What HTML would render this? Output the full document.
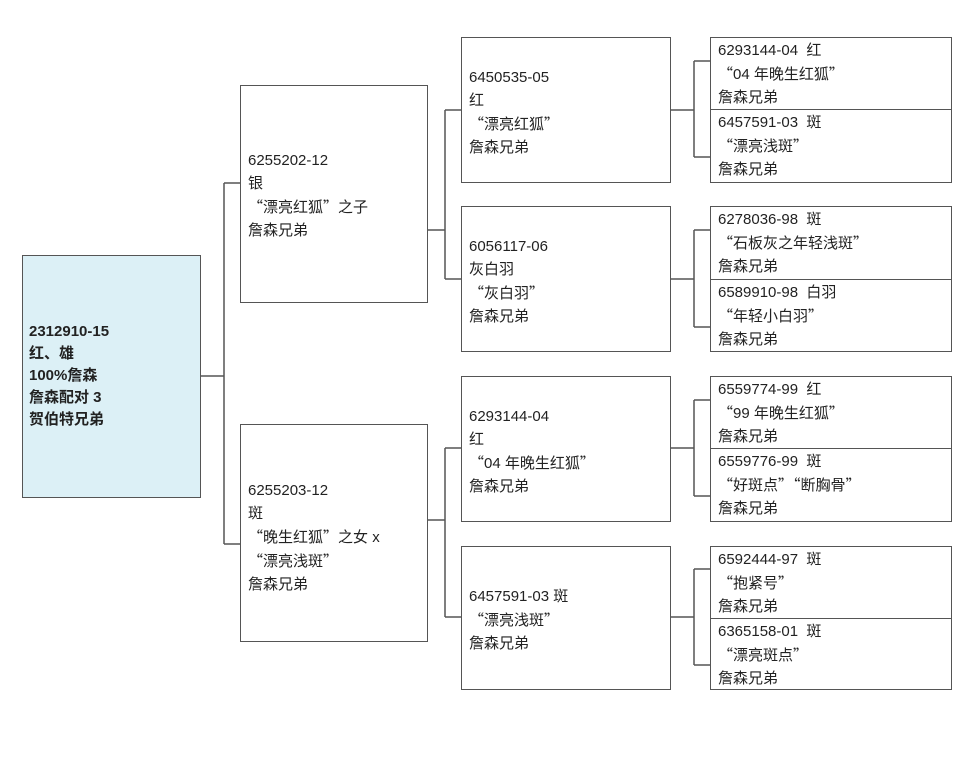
<!DOCTYPE html>
<html><head><meta charset="utf-8"><style>
body{margin:0;width:977px;height:768px;background:#fff;position:relative;overflow:hidden;font-family:"Liberation Sans","Noto Sans CJK SC",sans-serif;color:#222}
.b{position:absolute;border:1.5px solid #555;box-sizing:border-box;background:#fff}
.t{position:absolute;font-size:15px;line-height:23px;white-space:pre;color:#222}
.q{font-family:"Noto Sans CJK SC",sans-serif}
svg{position:absolute;left:0;top:0}
</style></head><body>
<svg width="977" height="768"><g stroke="#555" stroke-width="1.5" fill="none">
<path d="M200 376H224M224 183V544M224 183H240M224 544H240"/>
<path d="M427 230H445M445 110V279M445 110H461M445 279H461"/>
<path d="M427 520H445M445 448V617M445 448H461M445 617H461"/>
<path d="M670 110H694M694 61V157M694 61H710M694 157H710"/>
<path d="M670 279H694M694 230V327M694 230H710M694 327H710"/>
<path d="M670 448H694M694 400V496M694 400H710M694 496H710"/>
<path d="M670 617H694M694 569V665M694 569H710M694 665H710"/>
</g></svg>
<div class="b" style="left:22px;top:255px;width:179px;height:243px;background:#dcf0f6"></div>
<div class="t" style="left:29px;top:321px;font-weight:bold;line-height:22px">2312910-15
红、雄
100%詹森
詹森配对 3
贺伯特兄弟</div>

<div class="b" style="left:240px;top:85px;width:188px;height:218px"></div>
<div class="t" style="left:248px;top:149px">6255202-12
银
<span class="q">“</span>漂亮红狐<span class="q">”</span>之子
詹森兄弟</div>
<div class="b" style="left:240px;top:424px;width:188px;height:218px"></div>
<div class="t" style="left:248px;top:479px">6255203-12
斑
<span class="q">“</span>晚生红狐<span class="q">”</span>之女 x
<span class="q">“</span>漂亮浅斑<span class="q">”</span>
詹森兄弟</div>

<div class="b" style="left:461px;top:37px;width:210px;height:146px"></div>
<div class="t" style="left:469px;top:66px">6450535-05
红
<span class="q">“</span>漂亮红狐<span class="q">”</span>
詹森兄弟</div>
<div class="b" style="left:461px;top:206px;width:210px;height:146px"></div>
<div class="t" style="left:469px;top:235px">6056117-06
灰白羽
<span class="q">“</span>灰白羽<span class="q">”</span>
詹森兄弟</div>
<div class="b" style="left:461px;top:376px;width:210px;height:146px"></div>
<div class="t" style="left:469px;top:405px">6293144-04
红
<span class="q">“</span>04 年晚生红狐<span class="q">”</span>
詹森兄弟</div>
<div class="b" style="left:461px;top:546px;width:210px;height:144px"></div>
<div class="t" style="left:469px;top:585px">6457591-03 斑
<span class="q">“</span>漂亮浅斑<span class="q">”</span>
詹森兄弟</div>

<div class="b" style="left:710px;top:37px;width:242px;height:73px"></div>
<div class="t" style="left:718px;top:39px">6293144-04  红
<span class="q">“</span>04 年晚生红狐<span class="q">”</span>
詹森兄弟</div>
<div class="b" style="left:710px;top:109px;width:242px;height:74px"></div>
<div class="t" style="left:718px;top:111px">6457591-03  斑
<span class="q">“</span>漂亮浅斑<span class="q">”</span>
詹森兄弟</div>
<div class="b" style="left:710px;top:206px;width:242px;height:74px"></div>
<div class="t" style="left:718px;top:208px">6278036-98  斑
<span class="q">“</span>石板灰之年轻浅斑<span class="q">”</span>
詹森兄弟</div>
<div class="b" style="left:710px;top:279px;width:242px;height:73px"></div>
<div class="t" style="left:718px;top:281px">6589910-98  白羽
<span class="q">“</span>年轻小白羽<span class="q">”</span>
詹森兄弟</div>
<div class="b" style="left:710px;top:376px;width:242px;height:73px"></div>
<div class="t" style="left:718px;top:378px">6559774-99  红
<span class="q">“</span>99 年晚生红狐<span class="q">”</span>
詹森兄弟</div>
<div class="b" style="left:710px;top:448px;width:242px;height:74px"></div>
<div class="t" style="left:718px;top:450px">6559776-99  斑
<span class="q">“</span>好斑点<span class="q">”“</span>断胸骨<span class="q">”</span>
詹森兄弟</div>
<div class="b" style="left:710px;top:546px;width:242px;height:73px"></div>
<div class="t" style="left:718px;top:548px">6592444-97  斑
<span class="q">“</span>抱紧号<span class="q">”</span>
詹森兄弟</div>
<div class="b" style="left:710px;top:618px;width:242px;height:72px"></div>
<div class="t" style="left:718px;top:620px">6365158-01  斑
<span class="q">“</span>漂亮斑点<span class="q">”</span>
詹森兄弟</div>
</body></html>
